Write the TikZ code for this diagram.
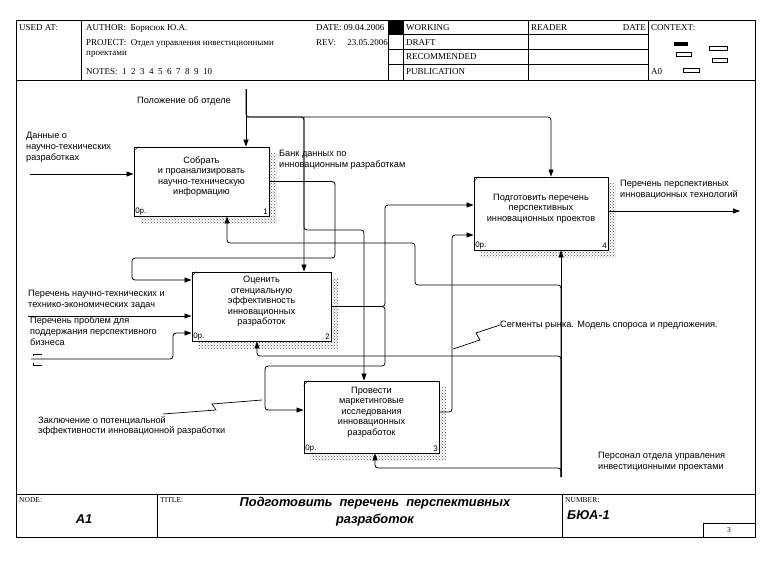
\documentclass[tikz,border=0pt]{standalone}
\usepackage{fontspec}
\setmainfont{Liberation Serif}
\setsansfont{Liberation Sans}
\usetikzlibrary{arrows.meta,patterns,backgrounds}

\tikzset{
  fnbox/.style={draw, line width=0.9pt, fill=white, inner sep=0pt},
  fntext/.style={font=\sffamily\fontsize{9.2}{10.6}\selectfont, align=center, inner sep=0pt},
  idtag/.style={font=\sffamily\fontsize{8}{9}\selectfont, inner sep=1.5pt},
  lbl/.style={font=\sffamily\fontsize{9.2}{10.8}\selectfont, align=left, inner sep=0pt, anchor=west},
  hdrtxt/.style={font=\fontsize{9}{11}\selectfont, inner sep=0pt, anchor=west},
  smalltxt/.style={font=\fontsize{7.5}{8}\selectfont, inner sep=0pt, anchor=west},
  bigtxt/.style={font=\sffamily\bfseries\itshape\fontsize{12.8}{17}\selectfont, inner sep=0pt, align=center},
  flow/.style={line width=0.8pt, rounded corners=3pt, -{Triangle[length=7pt,width=5pt]}},
  squig/.style={line width=0.7pt},
  rule/.style={line width=0.8pt},
  hatch/.style={pattern=crosshatch dots, pattern color=black!70}
}

\begin{document}
\begin{tikzpicture}[x=1pt, y=-1pt]
    \useasboundingbox (0,0) rectangle (776,566);

    % frame, header and footer
    \draw[rule] (16,20) rectangle (755,537);
    \draw[rule] (16,80) -- (755,80) (16,494) -- (755,494);
    \foreach \x in {81, 388, 403, 528, 648}
        \draw[rule] (\x,20) -- (\x,80);
    \foreach \y in {34, 49, 64}
        \draw[rule] (388,\y) -- (648,\y);
    \fill (388,20) rectangle (403,34);
    \draw[rule] (157,494) -- (157,537) (562,494) -- (562,537);
    \draw[rule] (703,523) rectangle (755,537);

    \node[hdrtxt] (usedat) at (19,28) {USED AT:};
    \begin{scope}
        \clip (81,20) rectangle (388,80);
        \node[hdrtxt] (author) at (86,28) {AUTHOR:\ \ Борисюк Ю.А.};
        \node[hdrtxt] (project) at (86,43) {PROJECT:\ \ Отдел управления инвестиционными};
        \node[hdrtxt] (project2) at (86,54) {проектами};
        \node[hdrtxt] (notes) at (86,72) {NOTES:\ \ 1\ \ 2\ \ 3\ \ 4\ \ 5\ \ 6\ \ 7\ \ 8\ \ 9\ \ 10};
        \node[hdrtxt] (date) at (316,28) {DATE: 09.04.2006};
        \node[hdrtxt] (rev) at (316,43) {REV:\ \ \ \ \ 23.05.2006};
    \end{scope}
    \node[hdrtxt] (working) at (406,28) {WORKING};   \node[hdrtxt] (draft) at (406,43) {DRAFT};
    \node[hdrtxt] (recom) at (406,57) {RECOMMENDED}; \node[hdrtxt] (publ) at (406,72) {PUBLICATION};
    \node[hdrtxt] (reader) at (531,28) {READER};     \node[hdrtxt, anchor=east] (rdate) at (646,28) {DATE};
    \node[hdrtxt] (context) at (651,28) {CONTEXT:};  \node[hdrtxt] (a0) at (651,72) {A0};
    \fill (674,42) rectangle (688,46);
    \draw[line width=0.6pt] (676,52) rectangle (691,56) (709,46) rectangle (727,50)
        (712,58) rectangle (727,62) (683,68) rectangle (699,72);

    \node[smalltxt] (node) at (19,500) {NODE:};
    \node[bigtxt] (nodeid) at (84,519) {A1};
    \node[smalltxt] (title) at (160,500) {TITLE:};
    \node[bigtxt] (titletxt) at (375,511.5) {Подготовить\ \ перечень\ \ перспективных\\разработок};
    \node[smalltxt] (number) at (565,500) {NUMBER:};
    \node[bigtxt, anchor=west] (numid) at (567,515) {БЮА-1};
    \node[smalltxt, anchor=center] (page) at (729,530) {3};

    % function boxes
    \node[fnbox, minimum width=135pt, minimum height=69pt] (b1) at (201.5,181.5) {};
    \node[fnbox, minimum width=139pt, minimum height=69pt] (b2) at (261.5,306.5) {};
    \node[fnbox, minimum width=135pt, minimum height=72pt] (b3) at (371.5,417) {};
    \node[fnbox, minimum width=134pt, minimum height=73pt] (b4) at (541,213.5) {};
    \begin{scope}[on background layer]
        \foreach \b in {b1, b2, b3, b4}
            \fill[hatch] ([shift={(7pt,-7pt)}]\b.south east) rectangle ([shift={(7pt,-7pt)}]\b.north west);
    \end{scope}
    \foreach \b/\n in {b1/1, b2/2, b3/3, b4/4} {
        \draw[line width=0.5pt] (\b.north west) ++(0,5) -- ++(5,-5);
        \node[idtag, anchor=south west] (\b-op) at (\b.south west) {0р.};
        \node[idtag, anchor=south east] (\b-no) at (\b.south east) {\n};
    }
    \node[fntext] (b1t) at ([yshift=5pt]b1.center) {Собрать\\и проанализировать\\научно-техническую\\информацию};
    \node[fntext] (b2t) at ([yshift=5pt]b2.center) {Оценить\\отенциальную\\эффективность\\инновационных\\разработок};
    \node[fntext] (b3t) at ([yshift=5pt]b3.center) {Провести\\маркетинговые\\исследования\\инновационных\\разработок};
    \node[fntext] (b4t) at ([yshift=5pt]b4.center) {Подготовить перечень\\перспективных\\инновационных проектов};

    % arrow ends and bends
    \coordinate (ctl) at (246,89);   \coordinate (c1) at (246,117);
    \coordinate (k2) at (304,117);   \coordinate (k3) at (364,230);  \coordinate (k4) at (551,117);
    \coordinate (mech) at (561,477); \coordinate (m1) at (415,285);  \coordinate (m1b) at (227,243);
    \coordinate (m2) at (257,356);   \coordinate (m3) at (375,468);
    \coordinate (in1) at (30,174);   \coordinate (in2) at (28,316);
    \coordinate (in3) at (31,359);   \coordinate (t3) at (173,333);
    \coordinate (f1) at (335,258);   \coordinate (f2) at (132,280);
    \coordinate (s1) at (385,205);   \coordinate (s2) at (385,366);  \coordinate (s3) at (265,410);
    \coordinate (o3) at (452,235);   \coordinate (out4) at (740,211);
    \coordinate (z1) at (163,414);   \coordinate (z2) at (262,400);

    % controls
    \draw[flow] (ctl) -- (b1.north -| ctl);                     % 1
    \draw[flow] (ctl) -- (c1) -- (k4) -- (b4.north -| k4);      % 4
    \draw[flow] (c1) -- (k2) -- (b2.north -| k2);               % 2
    \draw[flow] (k2) -- (k2 |- k3) -- (k3) -- (b3.north -| k3); % 3

    % mechanisms
    \draw[flow] (mech) -- (b4.south -| mech);                   % 4
    \draw[flow] (mech) |- (m1) |- (m1b) -- (b1.south -| m1b);   % 1
    \draw[flow] (mech) |- (m2) -- (b2.south -| m2);             % 2
    \draw[flow] (mech) |- (m3) -- (b3.south -| m3);             % 3

    % inputs and outputs
    \draw[flow] (in1) -- (b1.west |- in1);
    \draw[flow] (in2) -- (b2.west |- in2);
    \draw[flow] (in3) -| (t3) -- (b2.west |- t3);
    \draw[line width=0.6pt] (42,354) -- (33,354) -- (33,356) (33,363) -- (33,365) -- (42,365);
    \draw[flow] (b1.east) -| (f1) -| (f2) -- (b2.west |- f2);   % 1 -- 2
    \draw[flow] (b2.east) -| (s1) -- (b4.west |- s1);           % 2 -- 4
    \draw[flow] (b2.east) -| (s2) -| (s3) -- (b3.west |- s3);   % 2 -- 3
    \draw[flow] ([yshift=5pt]b3.east) -| (o3) -- (b4.west |- o3); % 3 -- 4
    \draw[flow] (b4.east |- out4) -- (out4);

    % labels
    \node[lbl] (lctl) at (137,101) {Положение об отделе};
    \node[lbl] (lin1) at (26,147) {Данные о\\научно-технических\\разработках};
    \node[lbl] (lbank) at (279,160) {Банк данных по\\инновационным разработкам};
    \node[lbl] (lout4) at (620,190) {Перечень перспективных\\инновационных технологий};
    \node[lbl] (lin2) at (28,299.5) {Перечень научно-технических и\\технико-экономических задач};
    \node[lbl] (lin3) at (30,331) {Перечень проблем для\\поддержания перспективного\\бизнеса};
    \node[lbl] (lseg) at (500,325) {Сегменты рынка. Модель спороса и предложения.};
    \node[lbl] (lconc) at (38,426) {Заключение о потенциальной\\эффективности инновационной разработки};
    \node[lbl] (lmech) at (598,462) {Персонал отдела управления\\инвестиционными проектами};
    \draw[squig] (lseg.west) -- (476,333) -- (480,340) -- (453,349);
    \draw[squig] (z1) -- (216,410) -- (212,404) -- (z2);
\end{tikzpicture}
\end{document}
